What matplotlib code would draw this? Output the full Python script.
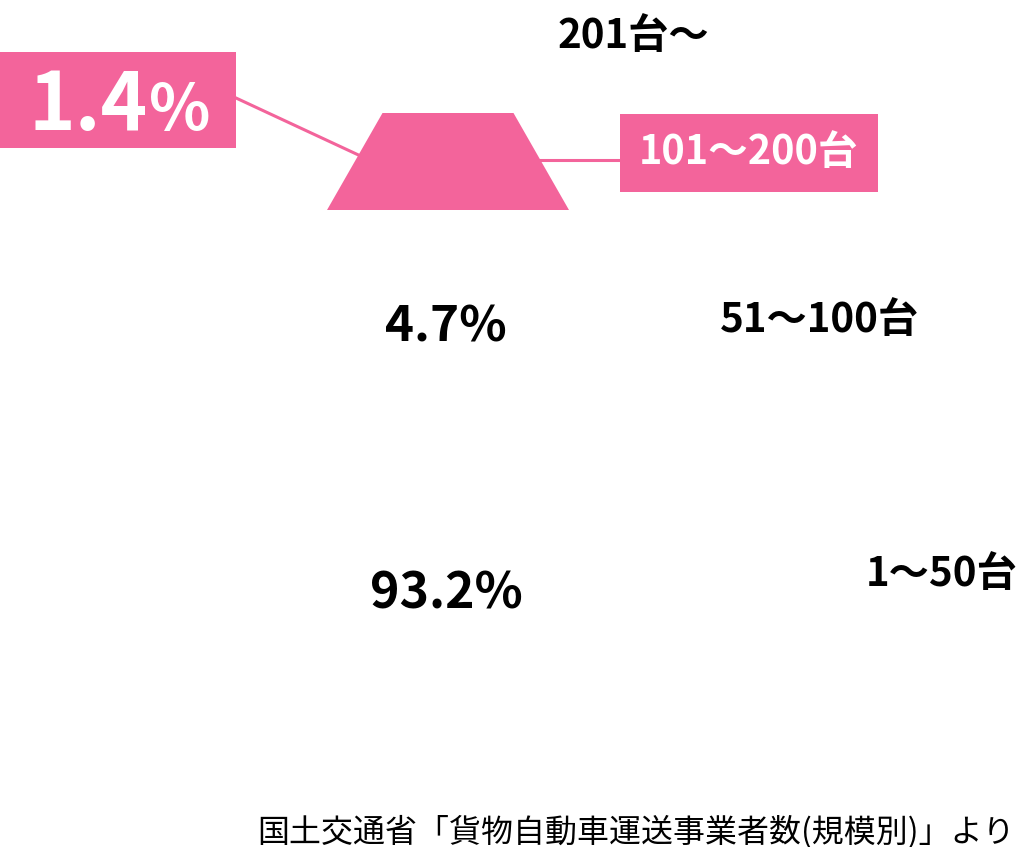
import matplotlib.pyplot as plt
from matplotlib.patches import Polygon, Rectangle

plt.rcParams['font.family'] = ['Noto Sans CJK JP', 'DejaVu Sans']

# data
categories = ['201台〜', '101〜200台', '51〜100台', '1〜50台']
shares = [0.7, 1.4, 4.7, 93.2]
show_share = [False, True, True, True]
highlight = 1  # 101〜200台
source = '国土交通省「貨物自動車運送事業者数(規模別)」より'

pink = '#f3649b'

# pyramid layout (pixel space)
apex_x, apex_y = 448, -1.5
slope = 0.572
seg_edges = [(0, 105), (113, 210), (218, 432), (440, 745)]
cat_label_y = [37, 153, 320, 575]
pct_label_y = [None, None, 327, 594]
pct_sizes = [None, None, 35.5, 36]

fig = plt.figure(figsize=(10.2, 8.47), dpi=100)
ax = fig.add_axes([0, 0, 1, 1])
ax.set_xlim(0, 1020)
ax.set_ylim(847, 0)
ax.axis('off')


def half_w(y):
    return (y - apex_y) * slope


for i, (top, bot) in enumerate(seg_edges):
    pts = [(apex_x - half_w(top), top), (apex_x + half_w(top), top),
           (apex_x + half_w(bot), bot), (apex_x - half_w(bot), bot)]
    ax.add_patch(Polygon(pts, closed=True, facecolor=pink if i == highlight else 'white',
                         edgecolor='none'))

    if i == highlight:
        continue
    ly = cat_label_y[i]
    ax.text(apex_x + half_w(ly) + 88, ly, categories[i], fontsize=29, fontweight='bold',
            ha='left', va='center', color='black')
    if show_share[i]:
        ax.text(apex_x - 2, pct_label_y[i], f'{shares[i]}%', fontsize=pct_sizes[i],
                fontweight='bold', ha='center', va='center', color='black')

# highlighted segment callouts
top, bot = seg_edges[highlight]
ax.add_patch(Rectangle((0, 52), 236, 96, facecolor=pink, edgecolor='none'))
ax.text(148, 130, f'{shares[highlight]}', fontsize=57, fontweight='bold', color='white',
        ha='right', va='baseline')
ax.text(149, 130, '%', fontsize=46, fontweight='bold', color='white',
        ha='left', va='baseline')
ax.plot([236, apex_x - half_w(155)], [98, 155], color=pink, lw=2.2)

ax.add_patch(Rectangle((620, 114), 258, 78, facecolor=pink, edgecolor='none'))
ax.text(749, 153, categories[highlight], fontsize=28.5, fontweight='bold', color='white',
        ha='center', va='center')
ax.plot([apex_x + half_w(160), 620], [160, 160], color=pink, lw=2.2)

ax.text(1015, 842, source, fontsize=23, color='black', ha='right', va='baseline')

fig.savefig('out.png', dpi=100, facecolor='white')
